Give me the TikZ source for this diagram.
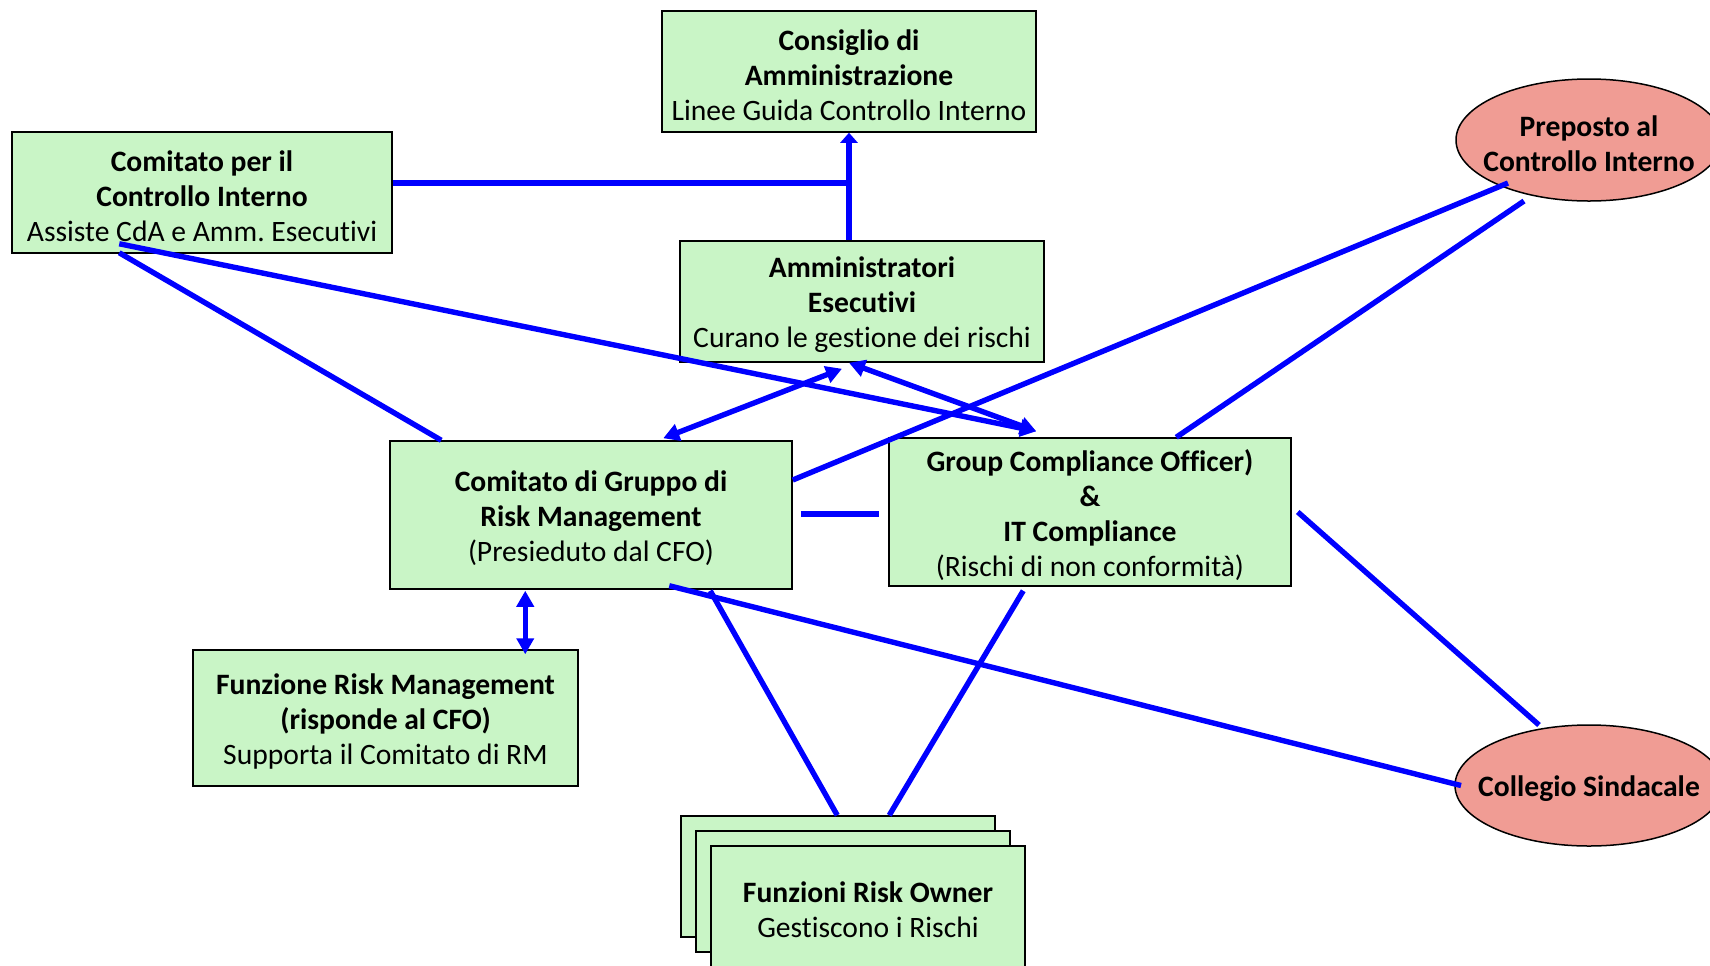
\documentclass[tikz,border=0pt]{standalone}
\usepackage{fontspec}
\setmainfont{Carlito}[Ligatures=NoCommon]
\usetikzlibrary{arrows.meta,calc,shapes.geometric}
\definecolor{boxgreen}{RGB}{201,245,198}
\definecolor{ovalred}{RGB}{240,156,148}
\definecolor{linkblue}{RGB}{0,0,255}
\frenchspacing
\begin{document}
\begin{tikzpicture}[x=0.5pt,y=-0.5pt,
  every node/.style={font=\fontsize{14.8}{17.5}\selectfont, align=center, inner sep=0pt},
  sz/.style 2 args={minimum width=#1*0.5pt, minimum height=#2*0.5pt},
  box/.style={draw=black, line width=0.75pt, fill=boxgreen, rectangle},
  oval/.style={draw=black, line width=0.75pt, fill=ovalred, ellipse},
  conn/.style={draw=linkblue, line width=2.7pt},
  tip/.style={-{Triangle[width=8.5pt,length=8pt]}},
  tips/.style={{Triangle[width=8.5pt,length=8pt]}-{Triangle[width=8.5pt,length=8pt]}},
]
\useasboundingbox (0,0) rectangle (1710,965);
\clip (0,0) rectangle (1710,965);

% shapes
\node[box, sz={374}{121}] (cda) at (849,71.5) {};
\node[box, sz={380}{121}] (cci) at (202,192.5) {};
\node[box, sz={364}{121}] (amm) at (862,301.5) {};
\node[box, sz={402}{148}] (crm) at (591,515) {};
\node[box, sz={402}{148}] (gco) at (1090,512) {};
\node[box, sz={385}{136}] (frm) at (385.5,718) {};
\node[box, sz={314}{121}] (ro3) at (838,876.5) {};
\node[box, sz={314}{121}] (ro2) at (853,891.5) {};
\node[box, sz={314}{121}] (ro1) at (868,906.5) {};
\node[oval, sz={266}{122}] (pci) at (1589,140) {};
\node[oval, sz={268}{121}] (cs) at (1589,785.5) {};

% texts
\node (cdaT) at ($(cda.center)+(0,3.3)$) {\textbf{Consiglio di}\\\textbf{Amministrazione}\\Linee Guida Controllo Interno};
\node (cciT) at ($(cci.center)+(0,3.3)$) {\textbf{Comitato per il}\\\textbf{Controllo Interno}\\Assiste CdA e Amm. Esecutivi};
\node (ammT) at ($(amm.center)+(0,3.3)$) {\textbf{Amministratori}\\\textbf{Esecutivi}\\Curano le gestione dei rischi};
\node (crmT) at ($(crm.center)+(0,3.3)$) {\textbf{Comitato di Gruppo di}\\\textbf{Risk Management}\\(Presieduto dal CFO)};
\node (gcoT) at ($(gco.center)+(0,3.3)$) {\textbf{Group Compliance Officer)}\\\textbf{\&}\\\textbf{IT Compliance}\\(Rischi di non conformità)};
\node (frmT) at ($(frm.center)+(0,3.3)$) {\textbf{Funzione Risk Management}\\\textbf{(risponde al CFO)}\\Supporta il Comitato di RM};
\node (ro1T) at ($(ro1.center)+(0,3.3)$) {\textbf{Funzioni Risk Owner}\\Gestiscono i Rischi};
\node (pciT) at ($(pci.center)+(0,3.3)$) {\textbf{Preposto al}\\\textbf{Controllo Interno}};
\node (csT) at ($(cs.center)+(0,3.3)$) {\textbf{Collegio Sindacale}};

% connectors
\draw[conn] ($(cci.east)+(0,-9.5)$) -- ($(cda.south |- cci.east)+(0,-9.5)$);
\draw[conn, -{Triangle[width=8.5pt,length=5pt]}] (cda.south |- amm.north) -- (cda.south);
\draw[conn] ($(cci.south west)+(108,-1)$) -- ($(crm.north west)+(52,0)$);
\draw[conn, tip] ($(cci.south west)+(108,-10)$) -- ($(gco.north west)+(148,-6)$);
\draw[conn, tips] ($(amm.south)+(-13,0)$) -- ($(gco.north west)+(148,-6)$);
\draw[conn, tips] ($(amm.south)+(-20,6)$) -- ($(crm.north west)+(274,-2)$);
\draw[conn] ($(crm.east)+(0,-35)$) -- ($(pci.center)+(-81,43)$);
\draw[conn] ($(gco.north west)+(288,0)$) -- ($(pci.center)+(-65,61)$);
\draw[conn] ($(crm.east)+(8,-1)$) -- ($(gco.west)+(-9,2)$);
\draw[conn, tips] ($(crm.south west)+(136,1)$) -- ($(frm.north west)+(333,5)$);
\draw[conn] ($(crm.south west)+(280,-4)$) -- ($(cs.center)+(-128,0)$);
\draw[conn] ($(crm.south west)+(321,1)$) -- ($(ro3.north west)+(157,0)$);
\draw[conn] ($(gco.south west)+(135,4)$) -- ($(ro3.north west)+(209,0)$);
\draw[conn] ($(gco.east)+(6,0)$) -- ($(cs.center)+(-50,-60.5)$);
\end{tikzpicture}
\end{document}
